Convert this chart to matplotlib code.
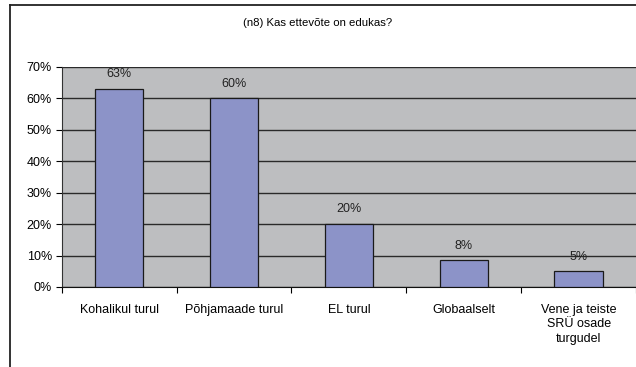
import numpy as np
import matplotlib
matplotlib.use("Agg")
import matplotlib.pyplot as plt
from matplotlib.lines import Line2D

plt.rcParams['font.family'] = ['Liberation Sans', 'DejaVu Sans']

title = "(n8) Kas ettevõte on edukas?"
categories = ["Kohalikul turul", "Põhjamaade turul", "EL turul", "Globaalselt",
              "Vene ja teiste\nSRÜ osade\nturgudel"]
values = [63, 60, 20, 8.5, 5]
labels = ["63%", "60%", "20%", "8%", "5%"]
yticks = [0, 10, 20, 30, 40, 50, 60, 70]

fig = plt.figure(figsize=(6.36, 3.67), dpi=100)
ax = fig.add_axes([0.097, 0.218, 0.903, 0.5995])
ax.set_facecolor('#BDBEC0')

x = np.arange(len(categories))
ax.bar(x, values, width=0.42, color='#8C93C8', edgecolor='#1a1a1a', linewidth=0.9, zorder=3)
for xi, v, lab in zip(x, values, labels):
    ax.text(xi, v + 4.7, lab, ha='center', va='center', fontsize=9, color='#222222')

ax.set_xlim(-0.5, len(categories) - 0.5)
ax.set_ylim(0, 70)
ax.set_yticks(yticks)
ax.set_yticklabels([f"{t}%" for t in yticks], fontsize=9)
ax.yaxis.grid(True, color='#2a2a2a', linewidth=1.0, zorder=1)
ax.set_axisbelow(True)

# category labels at centers, tick marks at boundaries
ax.set_xticks(x)
ax.set_xticklabels(categories, fontsize=9, linespacing=1.3)
ax.tick_params(axis='x', length=0, pad=12)
ax.set_xticks(np.arange(len(categories) + 1) - 0.5, minor=True)
ax.tick_params(axis='x', which='minor', length=4, width=0.8, direction='out')
ax.tick_params(axis='y', length=4, width=0.8, direction='out', pad=3)

for s in ['top', 'right']:
    ax.spines[s].set_visible(False)
ax.spines['left'].set_color('#333333')
ax.spines['bottom'].set_color('#111111')
ax.spines['left'].set_linewidth(0.8)

fig.text(0.5, 0.937, title, ha='center', va='center', fontsize=8.2)

# outer chart border (cropped at right/bottom)
fig.add_artist(Line2D([10 / 636, 1.0], [1 - 5 / 367, 1 - 5 / 367], color='#222222', lw=1.3))
fig.add_artist(Line2D([10 / 636, 10 / 636], [0, 1 - 5 / 367], color='#222222', lw=1.3))

fig.savefig("out.png", dpi=100)
